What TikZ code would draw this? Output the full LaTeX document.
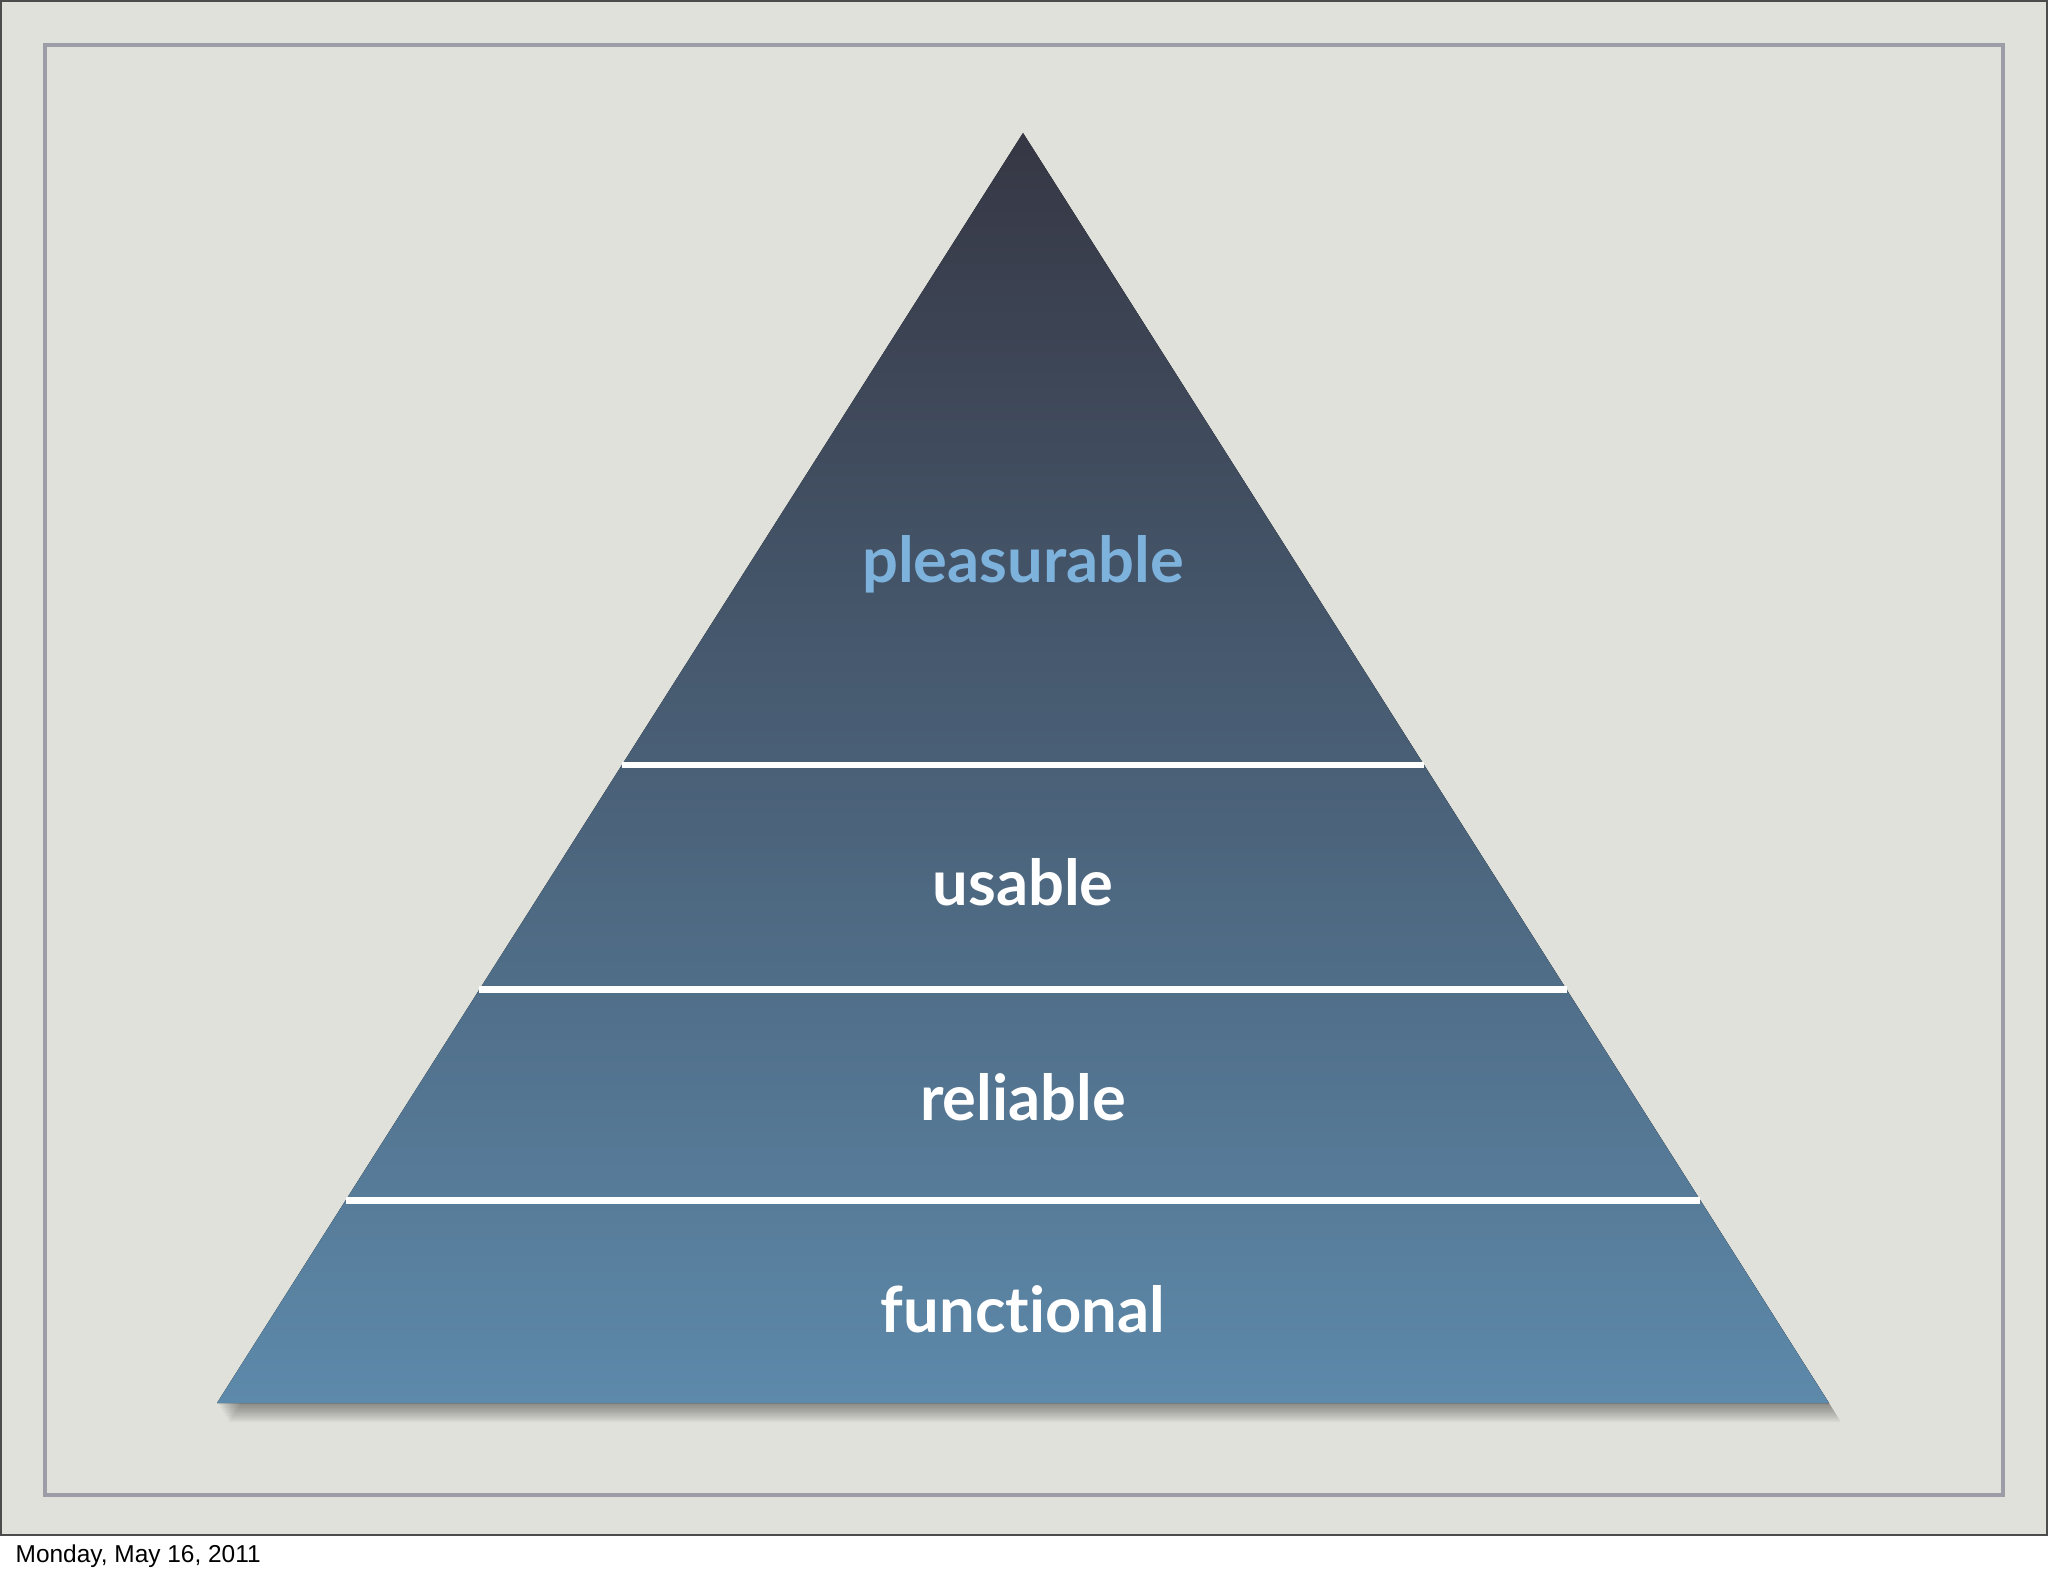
\documentclass[tikz,border=0pt]{standalone}
\usepackage{fontspec}
\setmainfont{Liberation Sans}
\newfontfamily\layerfont{Lato}[Ligatures=NoCommon]
\usetikzlibrary{calc}

\definecolor{paper}{HTML}{E0E1DB}
\definecolor{framegray}{HTML}{9D9DA8}
\definecolor{pyrtop}{HTML}{363744}
\definecolor{pyrbottom}{HTML}{5D89AA}
\definecolor{lightblue}{HTML}{7DB2DC}

\tikzset{
	layer/.style={font=\layerfont\bfseries\fontsize{18}{20}\selectfont, text=white, anchor=base, inner sep=0pt},
	sep/.style={draw=white, line width=1.85pt},
}

\begin{document}
\begin{tikzpicture}[x=0.01cm,y=-0.01cm]
		% Draw the slide
		\useasboundingbox (0,0) rectangle (2048,1576);
		\fill[white] (0,0) rectangle (2048,1576);
		\fill[paper] (0,0) rectangle (2048,1535);
		\draw[black!70, line width=0.8pt] (1,1) rectangle (2047,1535);
		\draw[framegray, line width=1.15pt] (45,45) rectangle (2003,1495);

		% Corners of the pyramid
		\coordinate (apex) at (1023,133);
		\coordinate (bl) at (217,1403);
		\coordinate (br) at (1829,1403);

		% Draw the shadow
		\foreach \s in {2,4,...,24}
			\fill[black, opacity=0.035] ($(apex)+(0.5*\s,0.8*\s)$) -- ($(br)+(0.5*\s,0.8*\s)$) -- ($(bl)+(0.5*\s,0.8*\s)$) -- cycle;

		% Draw the pyramid
		\fill[top color=pyrtop, bottom color=pyrbottom] (apex) -- (br) -- (bl) -- cycle;

		% Draw the lines between the layers
		\coordinate (l1) at ($(bl)!0.5024!(apex)$);
		\coordinate (r1) at ($(br)!0.5024!(apex)$);
		\coordinate (l2) at ($(bl)!0.3255!(apex)$);
		\coordinate (r2) at ($(br)!0.3255!(apex)$);
		\coordinate (l3) at ($(bl)!0.1596!(apex)$);
		\coordinate (r3) at ($(br)!0.1596!(apex)$);
		\draw[sep] (l1) -- (r1);
		\draw[sep] (l2) -- (r2);
		\draw[sep] (l3) -- (r3);

		% Label the layers
		\node[layer, text=lightblue] (pleasurable) at (1023,582) {pleasurable};
		\node[layer] (usable) at (1023,905) {usable};
		\node[layer] (reliable) at (1023,1120) {reliable};
		\node[layer] (functional) at (1023,1332) {functional};

		% Date at the foot of the page
		\node[anchor=base west, inner sep=0pt, font=\fontsize{6.95}{8}\selectfont] (date) at (15,1562) {Monday, May 16, 2011};

	\end{tikzpicture}
\end{document}
